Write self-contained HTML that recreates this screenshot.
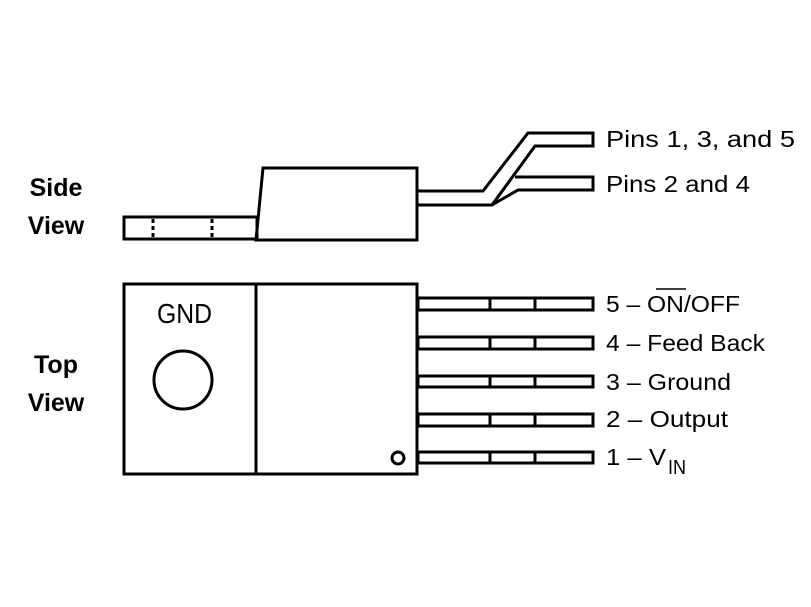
<!DOCTYPE html>
<html><head><style>body{margin:0;background:#fff}svg{display:block}</style></head>
<body>
<svg width="811" height="607" viewBox="0 0 811 607" xmlns="http://www.w3.org/2000/svg">
<g fill="none" stroke="#000" stroke-width="3" stroke-linejoin="miter">
<rect x="124" y="217" width="133" height="22"/>
<line x1="153" y1="219" x2="153" y2="237" stroke-dasharray="4,3"/>
<line x1="212" y1="219" x2="212" y2="237" stroke-dasharray="4,3"/>
<polygon points="263,168 417,168 417,240 256,240"/>
<polyline points="418,191 483,191 528,133 593,133 593,146 535,146 492,205 418,205"/>
<polyline points="515,177 593,177 593,190 518,190 492,205"/>
<rect x="124" y="284" width="293" height="190"/>
<line x1="256" y1="284" x2="256" y2="474"/>
<circle cx="183" cy="380" r="29"/>
<circle cx="398" cy="458" r="6"/>
<rect x="418" y="298" width="175" height="12"/>
<rect x="418" y="337" width="175" height="12"/>
<rect x="418" y="376" width="175" height="11"/>
<rect x="418" y="414" width="175" height="12"/>
<rect x="418" y="452" width="175" height="11"/>
<line x1="490" y1="298" x2="490" y2="310"/><line x1="535" y1="298" x2="535" y2="310"/>
<line x1="490" y1="337" x2="490" y2="349"/><line x1="535" y1="337" x2="535" y2="349"/>
<line x1="490" y1="376" x2="490" y2="387"/><line x1="535" y1="376" x2="535" y2="387"/>
<line x1="490" y1="414" x2="490" y2="426"/><line x1="535" y1="414" x2="535" y2="426"/>
<line x1="490" y1="452" x2="490" y2="463"/><line x1="535" y1="452" x2="535" y2="463"/>
</g>
<g font-family="Liberation Sans, sans-serif" font-weight="bold" font-size="25" fill="#000" text-anchor="middle">
<text x="56" y="196">Side</text>
<text x="56" y="234">View</text>
<text x="56" y="373">Top</text>
<text x="56" y="411">View</text>
</g>
<g font-family="Liberation Sans, sans-serif" font-size="23" fill="#000" lengthAdjust="spacingAndGlyphs">
<text x="157" y="323" textLength="55" lengthAdjust="spacingAndGlyphs" font-size="28">GND</text>
<text x="606" y="147" textLength="189" lengthAdjust="spacingAndGlyphs">Pins 1, 3, and 5</text>
<text x="606" y="192" textLength="144" lengthAdjust="spacingAndGlyphs">Pins 2 and 4</text>
<text x="606" y="312" textLength="134" lengthAdjust="spacingAndGlyphs">5 – ON/OFF</text>
<line x1="656" y1="289" x2="686" y2="289" stroke="#000" stroke-width="1.5"/>
<text x="606" y="351" textLength="159" lengthAdjust="spacingAndGlyphs">4 – Feed Back</text>
<text x="606" y="390" textLength="125" lengthAdjust="spacingAndGlyphs">3 – Ground</text>
<text x="606" y="427" textLength="122" lengthAdjust="spacingAndGlyphs">2 – Output</text>
<text x="606" y="465" textLength="60" lengthAdjust="spacingAndGlyphs">1 – V</text>
<text x="668" y="474" font-size="20" textLength="18" lengthAdjust="spacingAndGlyphs">IN</text>
</g>
</svg>
</body></html>
